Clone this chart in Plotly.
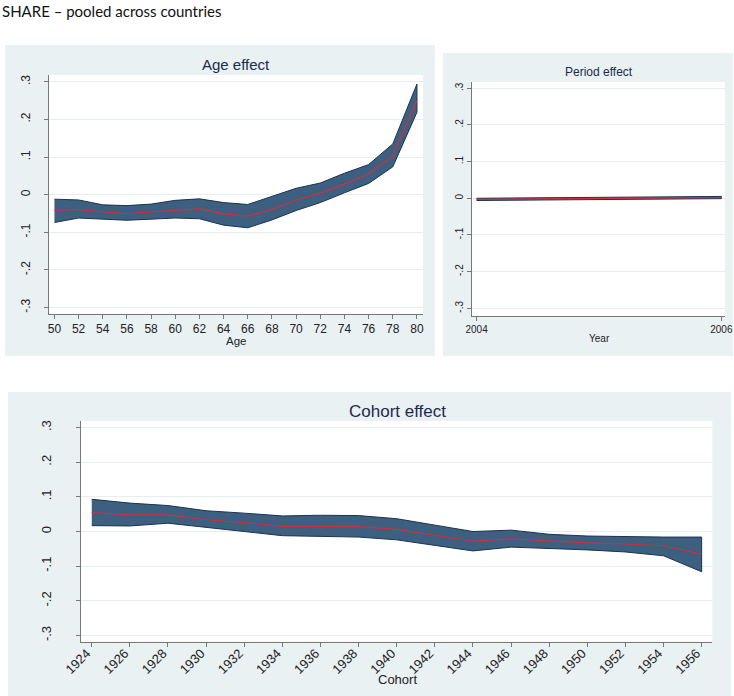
import plotly.graph_objects as go

W, H = 734, 696

# ---------------- data ----------------
age = [50, 52, 54, 56, 58, 60, 62, 64, 66, 68, 70, 72, 74, 76, 78, 80]
age_mid = [-0.042, -0.039, -0.046, -0.050, -0.046, -0.041, -0.037, -0.051, -0.057, -0.039,
           -0.014, 0.004, 0.028, 0.055, 0.103, 0.251]
age_hi = [-0.012, -0.014, -0.027, -0.029, -0.025, -0.015, -0.011, -0.021, -0.026, -0.005,
          0.017, 0.031, 0.057, 0.080, 0.135, 0.294]
age_lo = [-0.074, -0.062, -0.065, -0.068, -0.065, -0.062, -0.064, -0.081, -0.088, -0.067,
          -0.042, -0.021, 0.005, 0.030, 0.074, 0.219]

year = [2004, 2006]
year_mid = [-0.003, 0.002]
year_hi = [0.000, 0.005]
year_lo = [-0.006, -0.001]

cohort = [1924, 1926, 1928, 1930, 1932, 1934, 1936, 1938, 1940, 1942, 1944, 1946, 1948,
          1950, 1952, 1954, 1956]
cohort_mid = [0.055, 0.048, 0.048, 0.034, 0.026, 0.015, 0.015, 0.014, 0.006, -0.010,
              -0.028, -0.021, -0.028, -0.033, -0.036, -0.041, -0.065]
cohort_hi = [0.093, 0.082, 0.075, 0.060, 0.053, 0.045, 0.047, 0.046, 0.037, 0.019,
             0.000, 0.004, -0.008, -0.013, -0.015, -0.016, -0.016]
cohort_lo = [0.017, 0.016, 0.024, 0.012, 0.000, -0.012, -0.013, -0.016, -0.024, -0.040,
             -0.056, -0.045, -0.049, -0.053, -0.059, -0.070, -0.116]

yticks = [-0.3, -0.2, -0.1, 0, 0.1, 0.2, 0.3]
ytick_text = ["-.3", "-.2", "-.1", "0", ".1", ".2", ".3"]

FILL = "#3d5f80"
EDGE = "#1c3350"
RED = "#cf2f3f"
PANEL = "#eaf1f3"
GRID = "#e6eef1"
NAVY = "#1b2a4e"


def px(v):
    return v / W


def py(v):
    return 1 - v / H


fig = go.Figure()


def add_band(x, lo, mid, hi, xa, ya):
    fig.add_trace(go.Scatter(x=x + x[::-1], y=hi + lo[::-1], fill="toself", mode="lines",
                             fillcolor=FILL, line=dict(color=EDGE, width=1),
                             xaxis=xa, yaxis=ya, showlegend=False, hoverinfo="skip"))
    fig.add_trace(go.Scatter(x=x, y=mid, mode="lines", line=dict(color=RED, width=1.2),
                             xaxis=xa, yaxis=ya, showlegend=False))


add_band(age, age_lo, age_mid, age_hi, "x", "y")
add_band(year, year_lo, year_mid, year_hi, "x2", "y2")
add_band(cohort, cohort_lo, cohort_mid, cohort_hi, "x3", "y3")

axcommon = dict(showline=True, linecolor="#777", linewidth=1, ticks="outside", ticklen=4,
                tickcolor="#777", zeroline=False, mirror=False, fixedrange=True,
                automargin=False)

NARROW = "Liberation Sans Narrow, Liberation Sans"

fig.update_layout(
    template="none",
    width=W, height=H, autosize=False, margin=dict(l=0, r=0, t=0, b=0, pad=0),
    paper_bgcolor="white", plot_bgcolor="rgba(0,0,0,0)",
    xaxis=dict(domain=[px(49), px(423)], range=[49.55, 80.5], tickvals=age,
               showgrid=False, anchor="y",
               tickfont=dict(family="Liberation Sans", size=12, color="#222"), **axcommon),
    yaxis=dict(domain=[py(314), py(75)], range=[-0.317, 0.318], tickvals=yticks,
               ticktext=ytick_text, tickangle=-90, showgrid=True, gridcolor=GRID, anchor="x",
               ticklabelstandoff=9,
               tickfont=dict(family="Liberation Sans", size=12, color="#222"), **axcommon),
    xaxis2=dict(domain=[px(471.7), px(725)], range=[2003.96, 2006.03], tickvals=year,
                showgrid=False, anchor="y2",
                tickfont=dict(family=NARROW, size=10, color="#222"), **axcommon),
    yaxis2=dict(domain=[py(316), py(82)], range=[-0.321, 0.317], tickvals=yticks,
                ticktext=ytick_text, tickangle=-90, showgrid=True, gridcolor=GRID, anchor="x2",
                tickfont=dict(family=NARROW, size=10, color="#222"), **axcommon),
    xaxis3=dict(domain=[px(80.7), px(712.3)], range=[1923.42, 1956.56], tickvals=cohort,
                tickangle=-45, showgrid=False, anchor="y3",
                ticklabelshift=-5, ticklabelstandoff=-6,
                tickfont=dict(family="Liberation Sans", size=13, color="#222"), **axcommon),
    yaxis3=dict(domain=[py(641.7), py(421)], range=[-0.318, 0.319], tickvals=yticks,
                ticktext=ytick_text, tickangle=-90, showgrid=True, gridcolor=GRID, anchor="x3",
                ticklabelstandoff=20,
                tickfont=dict(family="Liberation Sans", size=13, color="#222"), **axcommon),
)

shapes = []
# panel backgrounds
for (x0, y0, x1, y1) in [(5, 45, 435, 356), (443, 53, 733, 356), (8, 392, 731, 696)]:
    shapes.append(dict(type="rect", xref="paper", yref="paper", x0=px(x0), x1=px(x1),
                       y0=py(y1), y1=py(y0), fillcolor=PANEL, line=dict(width=0), layer="below"))
# white plot areas
for xr, yr in [("x", "y"), ("x2", "y2"), ("x3", "y3")]:
    shapes.append(dict(type="rect", xref=f"{xr} domain", yref=f"{yr} domain", x0=0, x1=1,
                       y0=0, y1=1, fillcolor="white", line=dict(width=0), layer="below"))
fig.update_layout(shapes=shapes)

ann = [
    dict(text="SHARE \u2013 pooled across countries", x=0, y=py(11), xanchor="left",
         yanchor="middle", font=dict(family="Lato", size=15, color="#111")),
    dict(text="Age effect", x=px(236), y=py(65), xanchor="center", yanchor="middle",
         font=dict(family="Liberation Sans", size=15, color=NAVY)),
    dict(text="Age", x=px(236), y=py(340.5), xanchor="center", yanchor="middle",
         font=dict(family="Liberation Sans", size=11.5, color="#222")),
    dict(text="Period effect", x=px(599), y=py(72), xanchor="center", yanchor="middle",
         font=dict(family=NARROW, size=12, color=NAVY)),
    dict(text="Year", x=px(599), y=py(339), xanchor="center", yanchor="middle",
         font=dict(family=NARROW, size=10, color="#222")),
    dict(text="Cohort effect", x=px(397), y=py(411.5), xanchor="center", yanchor="middle",
         font=dict(family="Liberation Sans", size=17, color=NAVY)),
    dict(text="Cohort", x=px(397), y=py(679), xanchor="center", yanchor="middle",
         font=dict(family="Liberation Sans", size=13, color="#222")),
]
for a in ann:
    a.update(xref="paper", yref="paper", showarrow=False)
fig.update_layout(annotations=ann)

fig.write_html("out.html", config=dict(displayModeBar=False),
               post_script="document.body.style.margin='0px';"
                           "document.body.style.overflow='hidden';")
